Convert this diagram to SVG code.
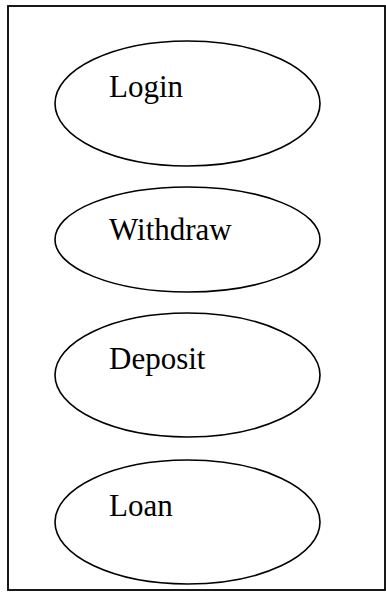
<svg xmlns="http://www.w3.org/2000/svg" width="386" height="592" viewBox="0 0 386 592">
<style>
.frame{fill:none;stroke:#000;stroke-width:1.8}
.uc{fill:#fff;stroke:#000;stroke-width:1.6}
.lbl{font-family:"Liberation Serif","Times New Roman",serif;font-size:31px;fill:#000}
</style>
<rect width="386" height="592" fill="#fff"/>
<rect class="frame" x="8" y="6" width="377" height="584"/>
<g id="connectors"></g>
<g id="login">
<ellipse class="uc" cx="187.5" cy="103.5" rx="132.5" ry="62.5"/>
<text class="lbl" x="109" y="97">Login</text>
</g>
<g id="withdraw">
<ellipse class="uc" cx="187.5" cy="239.5" rx="132.5" ry="52.5"/>
<text class="lbl" x="109" y="240">Withdraw</text>
</g>
<g id="deposit">
<ellipse class="uc" cx="187.5" cy="375" rx="132.5" ry="62"/>
<text class="lbl" x="109" y="369">Deposit</text>
</g>
<g id="loan">
<ellipse class="uc" cx="187.5" cy="522" rx="132.5" ry="62"/>
<text class="lbl" x="109" y="516">Loan</text>
</g>
</svg>
